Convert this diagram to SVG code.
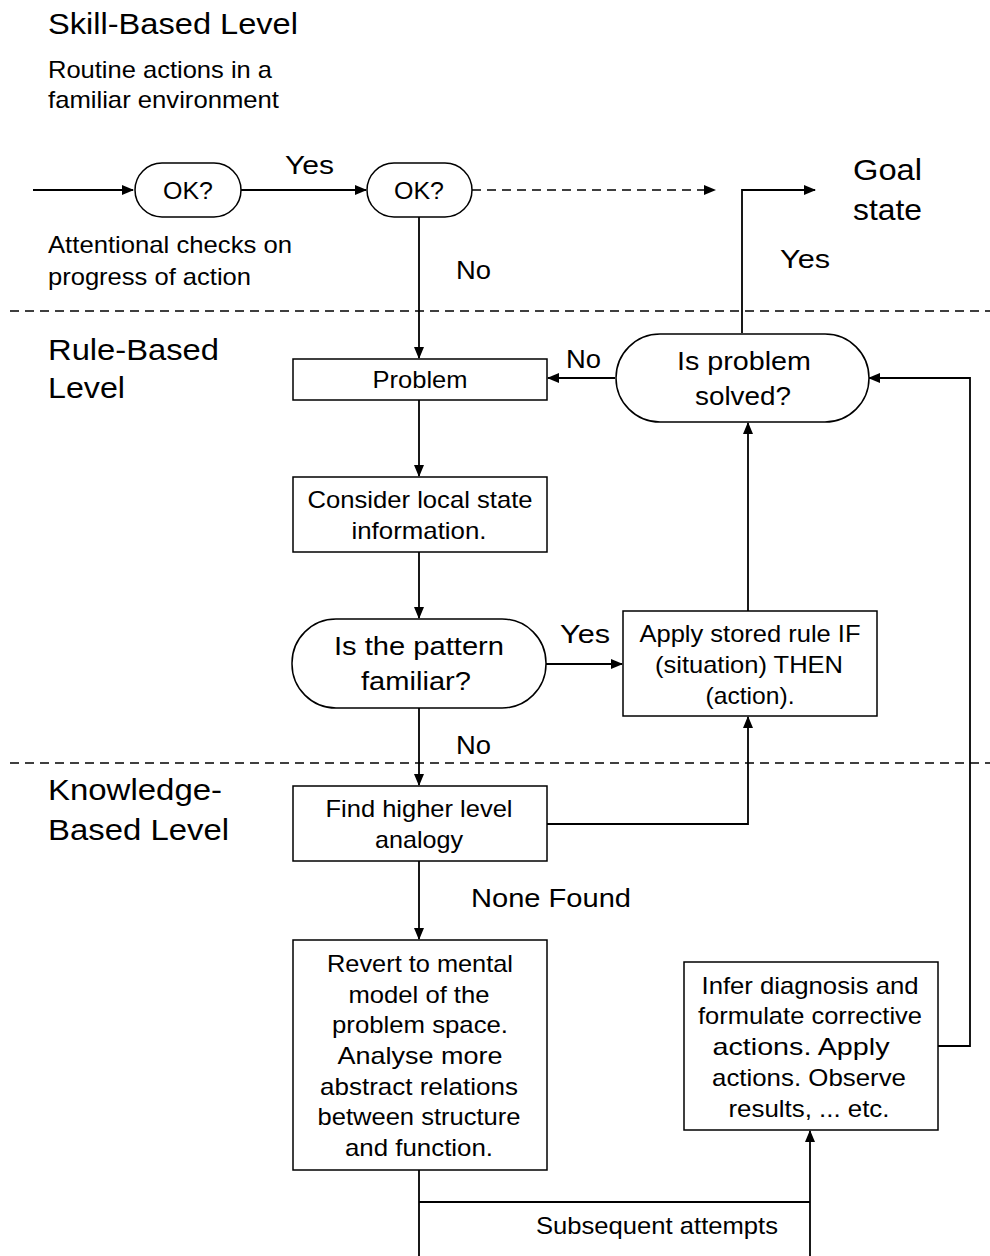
<svg xmlns="http://www.w3.org/2000/svg" width="990" height="1256" viewBox="0 0 990 1256">
<style>
text{font-family:"Liberation Sans",Arial,sans-serif;fill:#000}
.h{font-size:30px}
.s{font-size:24px}
.m{font-size:26px}
.c{text-anchor:middle}
.box{fill:#fff;stroke:#000;stroke-width:1.5}
.ln{fill:none;stroke:#000;stroke-width:1.8}
.dash{fill:none;stroke:#000;stroke-width:1.6;stroke-dasharray:9 6}
</style>
<defs>
<marker id="ah" markerWidth="12" markerHeight="10" refX="11" refY="5" orient="auto" markerUnits="userSpaceOnUse">
<path d="M0,0 L12,5 L0,10 Z" fill="#000"/>
</marker>
</defs>
<rect width="990" height="1256" fill="#fff"/>
<g id="labels">
<text class="h" x="48" y="34" textLength="250" lengthAdjust="spacingAndGlyphs">Skill-Based Level</text>
<text class="s" x="48" y="78" textLength="224" lengthAdjust="spacingAndGlyphs">Routine actions in a</text>
<text class="s" x="48" y="108" textLength="231" lengthAdjust="spacingAndGlyphs">familiar environment</text>
<text class="s" x="48" y="253" textLength="244" lengthAdjust="spacingAndGlyphs">Attentional checks on</text>
<text class="s" x="48" y="285" textLength="203" lengthAdjust="spacingAndGlyphs">progress of action</text>
<text class="h" x="48" y="360" textLength="171" lengthAdjust="spacingAndGlyphs">Rule-Based</text>
<text class="h" x="48" y="398" textLength="77" lengthAdjust="spacingAndGlyphs">Level</text>
<text class="h" x="48" y="800" textLength="174" lengthAdjust="spacingAndGlyphs">Knowledge-</text>
<text class="h" x="48" y="840" textLength="181" lengthAdjust="spacingAndGlyphs">Based Level</text>
<text class="h" x="853" y="180" textLength="69" lengthAdjust="spacingAndGlyphs">Goal</text>
<text class="h" x="853" y="220" textLength="69" lengthAdjust="spacingAndGlyphs">state</text>
<text class="m" x="285" y="174" textLength="49" lengthAdjust="spacingAndGlyphs">Yes</text>
<text class="m" x="456" y="279" textLength="35" lengthAdjust="spacingAndGlyphs">No</text>
<text class="m" x="780" y="268" textLength="50" lengthAdjust="spacingAndGlyphs">Yes</text>
<text class="m" x="566" y="368" textLength="35" lengthAdjust="spacingAndGlyphs">No</text>
<text class="m" x="560" y="643" textLength="50" lengthAdjust="spacingAndGlyphs">Yes</text>
<text class="m" x="456" y="754" textLength="35" lengthAdjust="spacingAndGlyphs">No</text>
<text class="m" x="471" y="907" textLength="160" lengthAdjust="spacingAndGlyphs">None Found</text>
<text class="s" x="536" y="1234" textLength="242" lengthAdjust="spacingAndGlyphs">Subsequent attempts</text>
</g>
<g id="connectors">
<line class="dash" x1="10" y1="311" x2="990" y2="311"/>
<line class="dash" x1="10" y1="763" x2="990" y2="763"/>
<line class="ln" x1="33" y1="190" x2="133" y2="190" marker-end="url(#ah)"/>
<line class="ln" x1="241" y1="190" x2="366" y2="190" marker-end="url(#ah)"/>
<line class="dash" x1="472" y1="190" x2="706" y2="190"/>
<path d="M704,185 L716,190 L704,195 Z" fill="#000"/>
<polyline class="ln" points="742,333 742,190 815,190" marker-end="url(#ah)"/>
<line class="ln" x1="419" y1="216" x2="419" y2="358" marker-end="url(#ah)"/>
<line class="ln" x1="615" y1="378" x2="548" y2="378" marker-end="url(#ah)"/>
<polyline class="ln" points="938,1046 970,1046 970,378 869,378" marker-end="url(#ah)"/>
<line class="ln" x1="419" y1="400" x2="419" y2="476" marker-end="url(#ah)"/>
<line class="ln" x1="419" y1="552" x2="419" y2="618" marker-end="url(#ah)"/>
<line class="ln" x1="546" y1="664" x2="622" y2="664" marker-end="url(#ah)"/>
<line class="ln" x1="748" y1="611" x2="748" y2="423" marker-end="url(#ah)"/>
<line class="ln" x1="419" y1="708" x2="419" y2="785" marker-end="url(#ah)"/>
<polyline class="ln" points="547,824 748,824 748,717" marker-end="url(#ah)"/>
<line class="ln" x1="419" y1="861" x2="419" y2="939" marker-end="url(#ah)"/>
<line class="ln" x1="419" y1="1170" x2="419" y2="1256"/>
<line class="ln" x1="419" y1="1202" x2="810" y2="1202"/>
<line class="ln" x1="810" y1="1256" x2="810" y2="1131" marker-end="url(#ah)"/>
</g>
<g id="ok1">
<rect class="box" x="135" y="163" width="106" height="54" rx="27"/>
<text class="s c" x="188" y="199" textLength="50" lengthAdjust="spacingAndGlyphs">OK?</text>
</g>
<g id="ok2">
<rect class="box" x="367" y="163" width="105" height="54" rx="27"/>
<text class="s c" x="419" y="199" textLength="50" lengthAdjust="spacingAndGlyphs">OK?</text>
</g>
<g id="problem">
<rect class="box" x="293" y="359" width="254" height="41"/>
<text class="s c" x="420" y="388" textLength="95" lengthAdjust="spacingAndGlyphs">Problem</text>
</g>
<g id="solved">
<rect class="box" x="616" y="334" width="253" height="88" rx="44"/>
<text class="m c" x="744" y="370" textLength="134" lengthAdjust="spacingAndGlyphs">Is problem</text>
<text class="m c" x="743" y="405" textLength="96" lengthAdjust="spacingAndGlyphs">solved?</text>
</g>
<g id="consider">
<rect class="box" x="293" y="477" width="254" height="75"/>
<text class="s c" x="420" y="508" textLength="225" lengthAdjust="spacingAndGlyphs">Consider local state</text>
<text class="s c" x="419" y="539" textLength="135" lengthAdjust="spacingAndGlyphs">information.</text>
</g>
<g id="pattern">
<rect class="box" x="292" y="619" width="254" height="89" rx="44"/>
<text class="m c" x="419" y="655" textLength="170" lengthAdjust="spacingAndGlyphs">Is the pattern</text>
<text class="m c" x="416" y="690" textLength="110" lengthAdjust="spacingAndGlyphs">familiar?</text>
</g>
<g id="apply">
<rect class="box" x="623" y="611" width="254" height="105"/>
<text class="s c" x="750" y="642" textLength="221" lengthAdjust="spacingAndGlyphs">Apply stored rule IF</text>
<text class="s c" x="749" y="673" textLength="188" lengthAdjust="spacingAndGlyphs">(situation) THEN</text>
<text class="s c" x="750" y="704" textLength="89" lengthAdjust="spacingAndGlyphs">(action).</text>
</g>
<g id="find">
<rect class="box" x="293" y="786" width="254" height="75"/>
<text class="s c" x="419" y="817" textLength="187" lengthAdjust="spacingAndGlyphs">Find higher level</text>
<text class="s c" x="419" y="848" textLength="88" lengthAdjust="spacingAndGlyphs">analogy</text>
</g>
<g id="revert">
<rect class="box" x="293" y="940" width="254" height="230"/>
<text class="s c" x="420" y="972" textLength="186" lengthAdjust="spacingAndGlyphs">Revert to mental</text>
<text class="s c" x="419" y="1003" textLength="141" lengthAdjust="spacingAndGlyphs">model of the</text>
<text class="s c" x="420" y="1033" textLength="176" lengthAdjust="spacingAndGlyphs">problem space.</text>
<text class="s c" x="420" y="1064" textLength="165" lengthAdjust="spacingAndGlyphs">Analyse more</text>
<text class="s c" x="419" y="1095" textLength="198" lengthAdjust="spacingAndGlyphs">abstract relations</text>
<text class="s c" x="419" y="1125" textLength="203" lengthAdjust="spacingAndGlyphs">between structure</text>
<text class="s c" x="419" y="1156" textLength="148" lengthAdjust="spacingAndGlyphs">and function.</text>
</g>
<g id="infer">
<rect class="box" x="684" y="962" width="254" height="168"/>
<text class="s c" x="810" y="994" textLength="217" lengthAdjust="spacingAndGlyphs">Infer diagnosis and</text>
<text class="s c" x="810" y="1024" textLength="224" lengthAdjust="spacingAndGlyphs">formulate corrective</text>
<text class="s c" x="801" y="1055" textLength="177" lengthAdjust="spacingAndGlyphs">actions. Apply</text>
<text class="s c" x="809" y="1086" textLength="194" lengthAdjust="spacingAndGlyphs">actions. Observe</text>
<text class="s c" x="809" y="1117" textLength="161" lengthAdjust="spacingAndGlyphs">results, ... etc.</text>
</g>
</svg>
